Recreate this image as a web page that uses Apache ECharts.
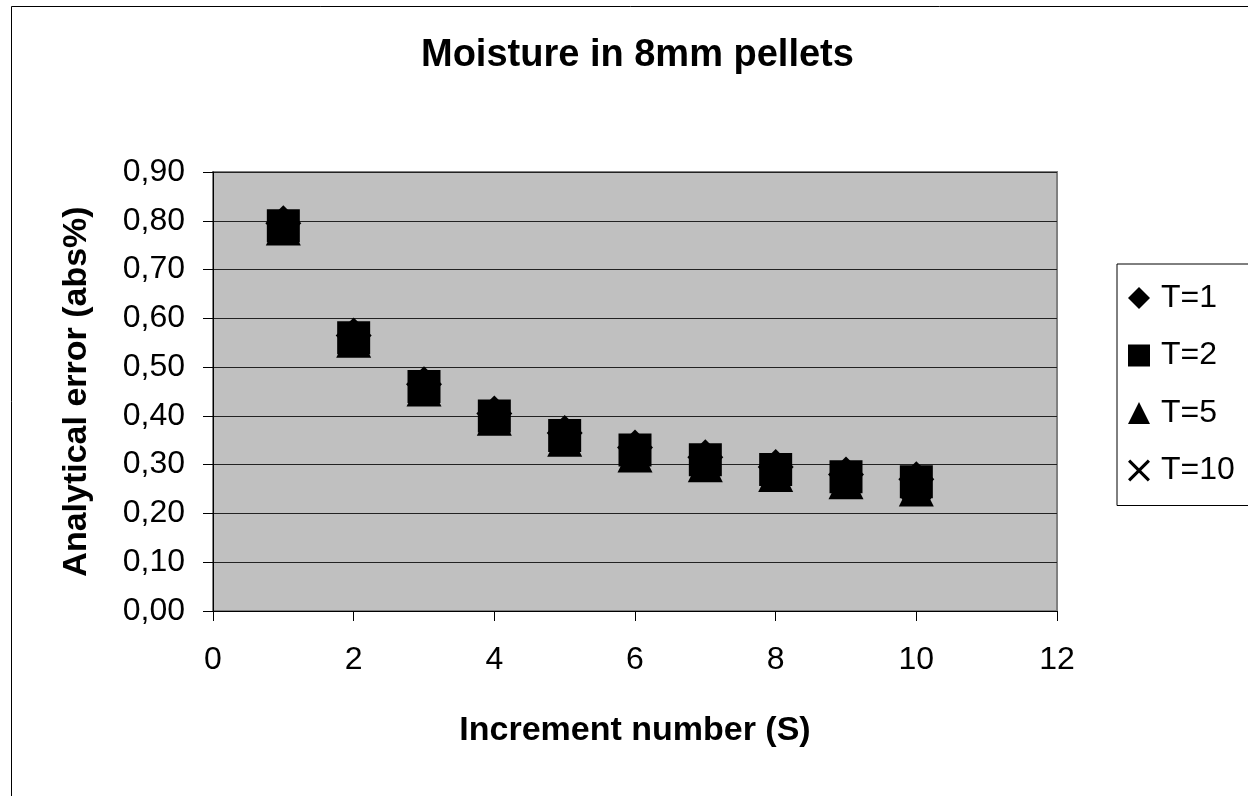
<!DOCTYPE html>
<html lang="en">
  <head>
    <meta charset="UTF-8" />
    <title>Moisture in 8mm pellets</title>
    <style>
      html, body { margin: 0; padding: 0; background: #fff; }
      #main { width: 1248px; height: 796px; }
    </style>
  </head>
  <body>
    <div id="main"></div>
    <script src="https://cdn.jsdelivr.net/npm/echarts@6/dist/echarts.min.js"></script>
    <script>
      // increments S = 1..10
      var increments = [1, 2, 3, 4, 5, 6, 7, 8, 9, 10];
      // analytical error (abs%) per T
      var t1  = [0.795, 0.565, 0.465, 0.405, 0.365, 0.335, 0.315, 0.295, 0.280, 0.270];
      var t2  = [0.790, 0.560, 0.460, 0.400, 0.360, 0.330, 0.310, 0.290, 0.275, 0.265];
      var t5  = [0.785, 0.555, 0.455, 0.395, 0.352, 0.320, 0.300, 0.280, 0.265, 0.250];
      var t10 = [0.785, 0.555, 0.455, 0.395, 0.355, 0.325, 0.305, 0.285, 0.270, 0.255];
      var seriesNames = ['T=1', 'T=2', 'T=5', 'T=10'];

      var crossPath = 'path://M0,1L1,0L5,4L9,0L10,1L6,5L10,9L9,10L5,6L1,10L0,9L4,5Z';
      var font = '"Liberation Sans", Arial, sans-serif';

      function pairs(vals) {
        return increments.map(function (s, i) { return [s, vals[i]]; });
      }

      function mkSeries(name, vals, symbol, size) {
        return {
          name: name,
          type: 'scatter',
          data: pairs(vals),
          symbol: symbol,
          symbolSize: size,
          itemStyle: { color: '#000', opacity: 1 },
          emphasis: { disabled: true }
        };
      }

      var chart = echarts.init(document.getElementById('main'));
      chart.setOption({
        animation: false,
        title: {
          text: 'Moisture in 8mm pellets',
          left: 416,
          top: 32,
          textStyle: { fontFamily: font, fontSize: 38, fontWeight: 'bold', color: '#000' }
        },
        legend: {
          orient: 'vertical',
          left: 1117,
          top: 264,
          padding: [18, 40, 19, 11],
          itemGap: 25.5,
          itemWidth: 22,
          itemHeight: 22,
          borderColor: '#000',
          borderWidth: 1,
          backgroundColor: '#fff',
          textStyle: { fontFamily: font, fontSize: 32, color: '#000', lineHeight: 32, padding: [0, 0, 0, 6] },
          data: [
            { name: 'T=1', icon: 'diamond' },
            { name: 'T=2', icon: 'rect' },
            { name: 'T=5', icon: 'triangle' },
            { name: 'T=10', icon: crossPath }
          ]
        },
        grid: {
          left: 213,
          top: 172,
          right: 191,
          bottom: 185,
          show: true,
          backgroundColor: '#c0c0c0',
          borderColor: '#808080',
          borderWidth: 2
        },
        xAxis: {
          type: 'value',
          min: 0,
          max: 12,
          interval: 2,
          name: 'Increment number (S)',
          nameLocation: 'middle',
          nameGap: 103,
          nameTextStyle: { fontFamily: font, fontSize: 34, fontWeight: 'bold', color: '#000' },
          axisLine: { show: true, lineStyle: { color: '#000', width: 1 } },
          axisTick: { show: true, inside: false, length: 10, lineStyle: { color: '#000' } },
          axisLabel: { margin: 33, fontFamily: font, fontSize: 32, color: '#000' },
          splitLine: { show: false }
        },
        yAxis: {
          type: 'value',
          min: 0,
          max: 0.9,
          interval: 0.1,
          name: 'Analytical error (abs%)',
          nameLocation: 'middle',
          nameRotate: 90,
          nameGap: 119,
          nameTextStyle: { fontFamily: font, fontSize: 34, fontWeight: 'bold', color: '#000' },
          axisLine: { show: true, lineStyle: { color: '#000', width: 1 } },
          axisTick: { show: true, inside: false, length: 10, lineStyle: { color: '#000' } },
          axisLabel: {
            margin: 28,
            fontFamily: font,
            fontSize: 32,
            color: '#000',
            formatter: function (v) { return v.toFixed(2).replace('.', ','); }
          },
          splitLine: { show: true, lineStyle: { color: '#222', width: 1 } }
        },
        graphic: [{
          type: 'rect',
          silent: true,
          z: -10,
          shape: { x: 11.5, y: 6.5, width: 1300, height: 900 },
          style: { fill: 'none', stroke: '#000', lineWidth: 1 }
        }],
        series: [
          mkSeries(seriesNames[0], t1, 'diamond', 36),
          mkSeries(seriesNames[1], t2, 'rect', 33),
          mkSeries(seriesNames[2], t5, 'triangle', 35),
          mkSeries(seriesNames[3], t10, crossPath, 30)
        ]
      });
    </script>
  </body>
</html>
